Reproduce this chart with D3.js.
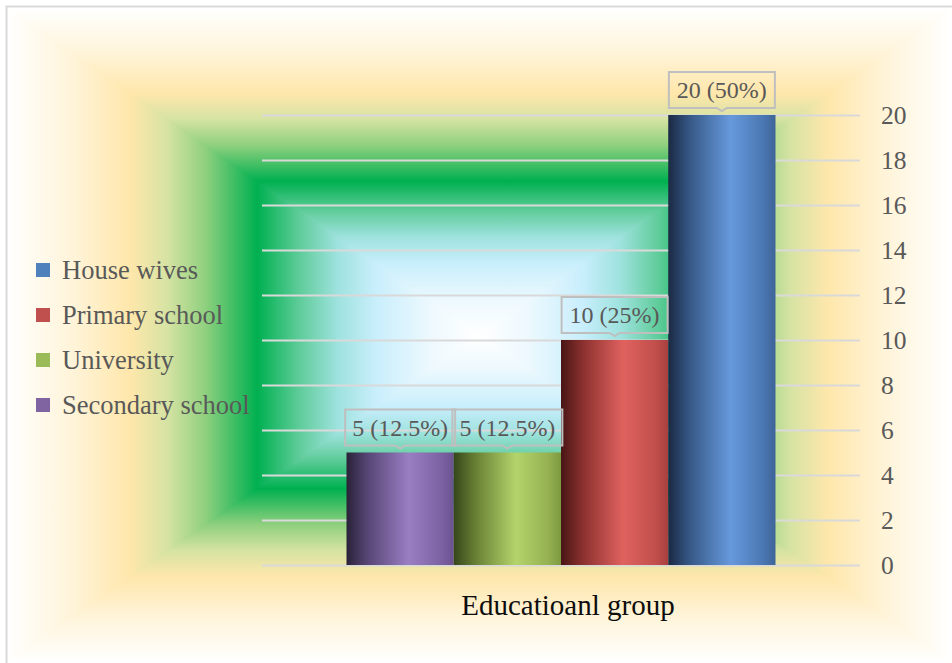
<!DOCTYPE html>
<html>
<head>
<meta charset="utf-8">
<script src="https://cdn.jsdelivr.net/npm/d3@7"></script>
<style>
  html, body { margin: 0; padding: 0; background: #ffffff; }
  svg { display: block; }
  text { font-family: "Liberation Serif", "Times New Roman", serif; }
</style>
</head>
<body>
<svg id="chart" width="952" height="663"></svg>
<script>
// ---- data ----
const categories = ["Educatioanl group"];
const seriesNames = ["Secondary school", "University", "Primary school", "House wives"];
const seriesValues = [5, 5, 10, 20];
const seriesPercents = ["12.5%", "12.5%", "25%", "50%"];
const seriesColors = ["#8064a2", "#9bbb59", "#c0504d", "#4f81bd"];
const legendOrder = ["House wives", "Primary school", "University", "Secondary school"];
const yTicks = [0, 2, 4, 6, 8, 10, 12, 14, 16, 18, 20];

// bar shading (dark edge, highlight, right side) per series
const barShades = {
  "Secondary school": ["#2a2238", "#574676", "#9a7ec2", "#7d62a3", "#6a528f"],
  "University":       ["#36461b", "#677f34", "#b4d46b", "#95b152", "#7e9a40"],
  "Primary school":   ["#481515", "#8a302e", "#e0625f", "#c14f4c", "#a8403e"],
  "House wives":      ["#1b2943", "#365886", "#6699dc", "#4b78b3", "#3e6498"]
};

const svg = d3.select("#chart");
const W = 952, H = 663;
const defs = svg.append("defs");

// ---- frame ----
svg.append("rect").attr("x", 0).attr("y", 0).attr("width", W).attr("height", H).attr("fill", "#ffffff");

// ---- rectangular (path) gradient background ----
const bx0 = 7, by0 = 8, bx1 = 951, by1 = 662;
const cx = (bx0 + bx1) / 2, cy = (by0 + by1) / 2;
const bgStops = [
  [0.00, "#ffffff"], [0.10, "#eef9fe"], [0.22, "#c8eefc"], [0.30, "#9ee2de"],
  [0.38, "#5fcc9a"], [0.47, "#00b050"], [0.58, "#8fd07e"], [0.66, "#d6e3a3"],
  [0.74, "#ffe7ab"], [0.86, "#fff4d9"], [0.96, "#fffcf4"], [1.00, "#ffffff"]
];
function symGrad(id, x1, y1, x2, y2) {
  const g = defs.append("linearGradient").attr("id", id)
    .attr("gradientUnits", "userSpaceOnUse")
    .attr("x1", x1).attr("y1", y1).attr("x2", x2).attr("y2", y2);
  const st = [];
  bgStops.forEach(([t, c]) => st.push([0.5 - t / 2, c]));
  bgStops.forEach(([t, c]) => st.push([0.5 + t / 2, c]));
  st.sort((a, b) => a[0] - b[0]);
  st.forEach(([o, c]) => g.append("stop").attr("offset", o).attr("stop-color", c));
}
symGrad("bgH", bx0, 0, bx1, 0);
symGrad("bgV", 0, by0, 0, by1);
svg.append("rect").attr("x", bx0).attr("y", by0).attr("width", bx1 - bx0).attr("height", by1 - by0)
  .attr("fill", "url(#bgH)");
svg.append("path")
  .attr("d", `M${bx0},${by0}L${bx1},${by0}L${cx},${cy}Z M${bx0},${by1}L${bx1},${by1}L${cx},${cy}Z`)
  .attr("fill", "url(#bgV)");

svg.append("rect").attr("x", 6.5).attr("y", 6.5).attr("width", 970).attr("height", 680)
  .attr("fill", "none").attr("stroke", "#d9d9d9").attr("stroke-width", 2);

// ---- scales ----
const plotL = 262, plotR = 860, plotT = 115, plotB = 565;
const y = d3.scaleLinear().domain([0, 20]).range([plotB, plotT]);
const x0 = d3.scaleBand().domain(categories).range([plotL, plotR]).paddingInner(0).paddingOuter(0.197);
const x1 = d3.scaleBand().domain(seriesNames).range([0, x0.bandwidth()]).padding(0);

// ---- gridlines ----
const grid = svg.append("g").attr("transform", `translate(${plotR},0)`)
  .call(d3.axisLeft(y).tickValues(yTicks).tickSize(plotR - plotL).tickFormat(""));
grid.select(".domain").remove();
grid.selectAll(".tick line").attr("stroke", "#d9d9d9").attr("stroke-width", 2);

// ---- y axis (right) ----
const yAxis = svg.append("g").attr("transform", `translate(${plotR},0)`)
  .call(d3.axisRight(y).tickValues(yTicks).tickSize(0).tickPadding(21));
yAxis.select(".domain").remove();
yAxis.selectAll(".tick text")
  .attr("fill", "#595959").attr("font-size", 25.5).attr("text-anchor", "start")
  .attr("font-family", "'Liberation Serif', 'Times New Roman', serif");

// ---- bar gradients ----
seriesNames.forEach((s, i) => {
  const g = defs.append("linearGradient").attr("id", "bar" + i)
    .attr("x1", 0).attr("y1", 0).attr("x2", 1).attr("y2", 0);
  const sh = barShades[s];
  [[0, sh[0]], [0.2, sh[1]], [0.58, sh[2]], [0.88, sh[3]], [1, sh[4]]].forEach(([o, c]) =>
    g.append("stop").attr("offset", o).attr("stop-color", c));
});

// ---- bars ----
const data = seriesNames.map((s, i) => ({ cat: categories[0], name: s, value: seriesValues[i], pct: seriesPercents[i], i }));
const groups = svg.append("g").selectAll("g").data(categories).join("g")
  .attr("transform", d => `translate(${x0(d)},0)`);
groups.selectAll("rect").data(data).join("rect")
  .attr("x", d => x1(d.name))
  .attr("y", d => y(d.value))
  .attr("width", x1.bandwidth())
  .attr("height", d => y(0) - y(d.value))
  .attr("fill", d => `url(#bar${d.i})`);

// ---- data labels (callouts) ----
const lab = groups.selectAll("g.lab").data(data).join("g").attr("class", "lab");
lab.each(function (d) {
  const g = d3.select(this);
  const bxC = x1(d.name) + x1.bandwidth() / 2;
  const top = y(d.value);
  const t = g.append("text")
    .attr("x", bxC).attr("y", top - 17)
    .attr("text-anchor", "middle")
    .attr("font-size", 24).attr("fill", "#595959")
    .text(`${d.value} (${d.pct})`);
  const tw = t.node().getComputedTextLength();
  const w = Math.max(tw + 14, 106);
  const L = bxC - w / 2, R = bxC + w / 2, T = top - 43, B = top - 7;
  g.insert("path", "text")
    .attr("d", `M${L},${T}H${R}V${B}H${bxC + 5}L${bxC},${B + 3}L${bxC - 5},${B}H${L}Z`)
    .attr("fill", "none").attr("stroke", "#bfbfbf").attr("stroke-width", 2);
});

// ---- legend ----
const legend = svg.append("g").selectAll("g").data(legendOrder).join("g")
  .attr("transform", (d, i) => `translate(36,${270 + i * 45})`);
legend.append("rect").attr("x", 0).attr("y", -7).attr("width", 14).attr("height", 14)
  .attr("fill", d => seriesColors[seriesNames.indexOf(d)]);
legend.append("text").attr("x", 26).attr("y", 8.5)
  .attr("font-size", 26.5).attr("fill", "#595959").text(d => d);

// ---- category axis label ----
svg.append("g").selectAll("text").data(categories).join("text")
  .attr("x", d => x0(d) + x0.bandwidth() / 2 + 7).attr("y", 615)
  .attr("text-anchor", "middle").attr("font-size", 29).attr("fill", "#0d0d0d")
  .text(d => d);
</script>
</body>
</html>
